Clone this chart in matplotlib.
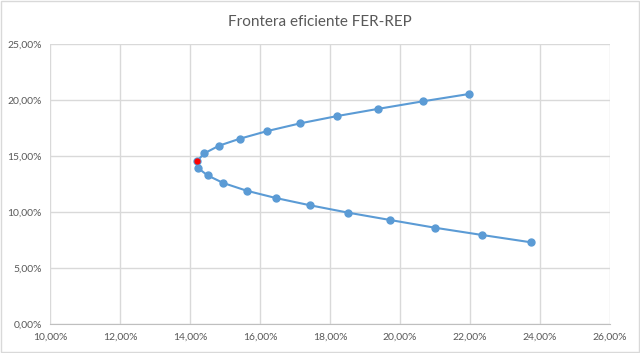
import matplotlib.pyplot as plt
from matplotlib.ticker import FuncFormatter, MultipleLocator

plt.rcParams['font.family'] = ['Lato', 'DejaVu Sans']

# Efficient frontier points (risk %, return %), from upper end through minimum variance to lower end
riesgo = [21.98, 20.65, 19.36, 18.21, 17.14, 16.21, 15.43, 14.83, 14.41, 14.21,
          14.24, 14.50, 14.95, 15.62, 16.45, 17.43, 18.52, 19.71, 20.99, 22.34, 23.75]
rentabilidad = [20.54, 19.88, 19.20, 18.57, 17.91, 17.23, 16.55, 15.92, 15.24, 14.58,
                13.90, 13.27, 12.59, 11.90, 11.25, 10.60, 9.94, 9.29, 8.60, 7.95, 7.29]

# Minimum variance portfolio
min_riesgo = [14.21]
min_rent = [14.58]

gris = "#595959"
azul = "#5B9BD5"

fig = plt.figure(figsize=(6.4, 3.53), dpi=100)
ax = fig.add_axes([50 / 640, 1 - 324 / 353, 560 / 640, 280 / 353])

ax.plot(riesgo, rentabilidad, color=azul, lw=1.5, marker="o", ms=5, zorder=3)
ax.plot(min_riesgo, min_rent, ls="none", marker="o", color="red", mec="red", ms=3.5, zorder=4)

ax.set_xlim(10, 26)
ax.set_ylim(0, 25)
ax.xaxis.set_major_locator(MultipleLocator(2))
ax.yaxis.set_major_locator(MultipleLocator(5))
fmt = FuncFormatter(lambda v, p: f"{v:.2f}%".replace(".", ","))
ax.xaxis.set_major_formatter(fmt)
ax.yaxis.set_major_formatter(fmt)

ax.grid(True, color="#d9d9d9", lw=1)
ax.set_axisbelow(True)
for s in ["top", "right", "left"]:
    ax.spines[s].set_visible(False)
ax.spines["bottom"].set_color("#bfbfbf")
ax.tick_params(length=0, labelsize=7.5, colors=gris, pad=6)

fig.text(0.5, 1 - 22 / 353, "Frontera eficiente FER-REP", ha="center", va="center",
         fontsize=11, color=gris)

# chart border
fig.patches.append(plt.Rectangle((0.002, 0.003), 0.996, 0.994, transform=fig.transFigure,
                                 fill=False, edgecolor="#d9d9d9", lw=1))

fig.savefig("out.png", dpi=100)
